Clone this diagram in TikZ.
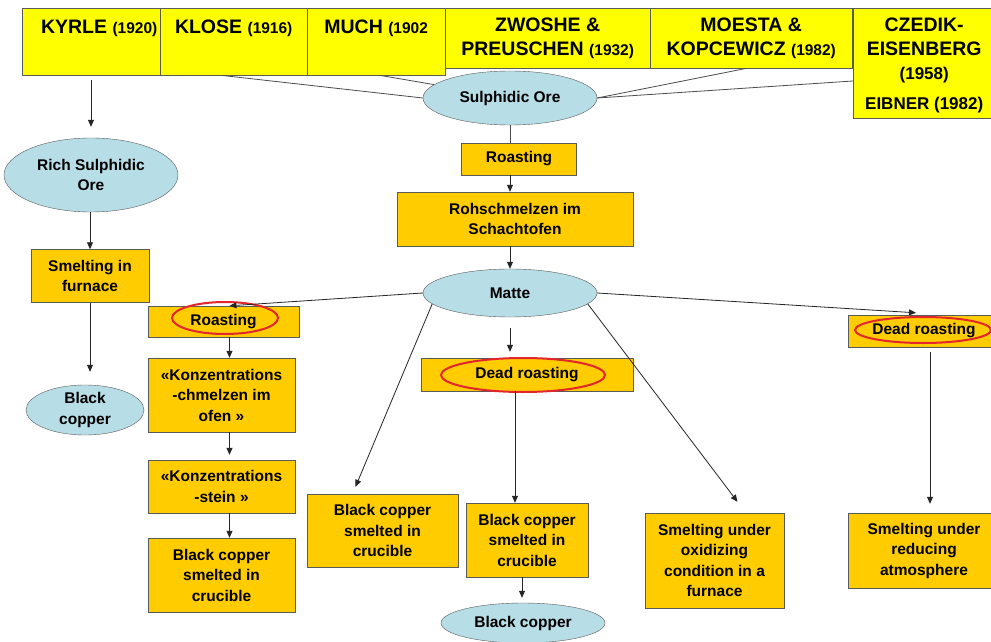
\documentclass[tikz,border=0pt]{standalone}
\usepackage{fontspec}
\setmainfont{Liberation Sans}
\usetikzlibrary{shapes.geometric,arrows.meta}

\definecolor{topyellow}{HTML}{FFFF00}
\definecolor{stepfill}{HTML}{FFCC00}
\definecolor{orefill}{HTML}{B7DDE6}
\definecolor{ringred}{HTML}{E3262B}
\definecolor{edge}{HTML}{5A5A5A}

\newcommand{\yr}[1]{{\fontsize{15.5}{20}\selectfont #1}}

\tikzset{
  topbox/.style={draw=edge, fill=topyellow, anchor=north west, inner sep=0pt},
  toptext/.style={anchor=north, align=center, inner sep=0pt,
    font=\bfseries\fontsize{19.5}{24}\selectfont},
  stepbox/.style={draw=edge, fill=stepfill, align=center, inner sep=0pt,
    font=\bfseries\fontsize{15.5}{20.5}\selectfont},
  orenode/.style={ellipse, draw=edge, fill=orefill, align=center, inner sep=0pt,
    font=\bfseries\fontsize{15.5}{20.5}\selectfont},
  ring/.style={ellipse, draw=ringred, line width=2pt, inner sep=0pt},
  arr/.style={-{Triangle[length=7pt,width=6pt]}, line width=0.8pt, black!85},
  link/.style={line width=0.8pt, black!70}
}

\begin{document}
\begin{tikzpicture}[x=1pt,y=-1pt]
\useasboundingbox (0,0) rectangle (991,642);
\clip (0,0) rectangle (991,642);
\fill[white] (0,0) rectangle (991,642);

% authors along the top
\node[topbox, minimum width=154pt, minimum height=67pt] (kyrle) at (22,8) {};
\node[toptext, yshift=-11.5pt] (kyrleT) at (kyrle.north) {KYRLE \yr{(1920)}};
\node[topbox, minimum width=147pt, minimum height=67pt] (klose) at (160,8) {};
\node[toptext, yshift=-11.5pt] (kloseT) at (klose.north) {KLOSE \yr{(1916)}};
\node[topbox, minimum width=138pt, minimum height=67pt] (much) at (307,8) {};
\node[toptext, yshift=-11.5pt] (muchT) at (much.north) {MUCH \yr{(1902}};
\node[topbox, minimum width=205pt, minimum height=60pt] (zwoshe) at (445,8) {};
\node[toptext, yshift=-10pt] (zwosheT) at (zwoshe.north) {ZWOSHE \&\\PREUSCHEN \yr{(1932)}};
\node[topbox, minimum width=202pt, minimum height=60pt] (moesta) at (650,8) {};
\node[toptext, yshift=-10pt] (moestaT) at (moesta.north) {MOESTA \&\\KOPCEWICZ \yr{(1982)}};
\node[topbox, minimum width=150pt, minimum height=110pt] (czedik) at (853,8) {};
\node[toptext, yshift=-10pt, xshift=-4pt] (czedikT) at (czedik.north)
  {CZEDIK-\\EISENBERG\\{\fontsize{17}{20}\selectfont (1958)}\\[6pt]
   {\fontsize{17}{20}\selectfont EIBNER (1982)}};

% left branch
\node[orenode, minimum width=174pt, minimum height=74pt] (rich) at (91,175) {Rich Sulphidic\\Ore};
\node[stepbox, minimum width=118pt, minimum height=53pt] (smelt) at (90,276) {Smelting in\\furnace};
\node[orenode, minimum width=118pt, minimum height=50pt] (bcL) at (85,410) {Black\\copper};

% main column
\node[orenode, minimum width=174pt, minimum height=54pt] (ore) at (510,98) {Sulphidic Ore};
\node[stepbox, minimum width=115pt, minimum height=32pt] (roast) at (519,159) {Roasting};
\node[stepbox, minimum width=236pt, minimum height=54pt] (rohs) at (515,219) {Rohschmelzen im\\Schachtofen};
\node[orenode, minimum width=174pt, minimum height=48pt] (matte) at (510,293) {Matte};

\node[stepbox, minimum width=151pt, minimum height=31pt] (roastA) at (223.5,321.5) {Roasting};
\node[ring, minimum width=106pt, minimum height=32pt] (ringA) at (225,318) {};
\node[stepbox, minimum width=147pt, minimum height=74pt] (konzA) at (221.5,395)
  {«Konzentrations\\-chmelzen im\\ofen »};
\node[stepbox, minimum width=147pt, minimum height=53pt] (konzB) at (221.5,486.5)
  {«Konzentrations\\-stein »};
\node[stepbox, minimum width=147pt, minimum height=74pt] (bcA) at (221.5,575)
  {Black copper\\smelted in\\crucible};

\node[stepbox, minimum width=151pt, minimum height=73pt] (bcB) at (382.5,530.5)
  {Black copper\\smelted in\\crucible};

\node[stepbox, minimum width=212pt, minimum height=33pt] (deadM) at (527,374.5) {Dead roasting};
\node[ring, minimum width=164pt, minimum height=34pt] (ringM) at (523,375) {};
\node[stepbox, minimum width=122pt, minimum height=74pt] (bcC) at (527,540)
  {Black copper\\smelted in\\crucible};
\node[orenode, minimum width=164pt, minimum height=40pt] (bcE) at (523,623) {Black copper};

\node[stepbox, minimum width=139pt, minimum height=95pt] (oxid) at (714.5,560.5)
  {Smelting under\\oxidizing\\condition in a\\furnace};

\node[stepbox, minimum width=152pt, minimum height=32pt] (deadR) at (924,331) {Dead roasting};
\node[ring, minimum width=136pt, minimum height=26pt] (ringR) at (923,330) {};
\node[stepbox, minimum width=152pt, minimum height=75pt] (reduce) at (924,550.5)
  {Smelting under\\reducing\\atmosphere};

% lines into the ore
\draw[link] ([xshift=-12pt]klose.south) -- (ore.west);
\draw[link] ([xshift=4pt]much.south) -- (ore.170);
\draw[link] ([xshift=-5pt]moesta.south) -- (ore.east);
\draw[link] ([yshift=-73pt]czedik.north west) -- (ore.east);

% arrows
\draw[arr] ([yshift=-5pt]kyrle.south -| rich.north) -- ([yshift=11pt]rich.north);
\draw[arr] (rich.south -| smelt.north) -- (smelt.north);
\draw[arr] (smelt.south) -- ([yshift=13pt]smelt.south |- bcL.north);

\draw[link] (ore.south) -- (ore.south |- roast.north);
\draw[arr] (ore.south |- roast.south) -- (ore.south |- rohs.north);
\draw[arr] (ore.south |- rohs.south) -- (matte.north);

\draw[arr] (matte.west) -- ([xshift=6pt]roastA.north);
\draw[arr] ([xshift=6pt]roastA.south) -- ([xshift=6pt]roastA.south |- konzA.north);
\draw[arr] ([xshift=8pt]konzA.south) -- ([xshift=8pt,yshift=5pt]konzB.north);
\draw[arr] ([xshift=8pt]konzB.south) -- ([xshift=8pt]bcA.north);

\draw[arr] (matte.188) -- ([xshift=-27pt,yshift=7pt]bcB.north);
\draw[arr] ([yshift=-11pt]matte.south) -- ([yshift=6pt]matte.south |- deadM.north);
\draw[arr] ([xshift=-12pt]deadM.south) -- ([xshift=-12pt]bcC.north);
\draw[arr] ([xshift=-5pt]bcC.south) -- ([xshift=-5pt,yshift=5pt]bcC.south |- bcE.north);

\draw[arr] (matte.-8) -- ([xshift=23pt,yshift=11pt]oxid.north);
\draw[arr] (matte.east) -- ([xshift=-8pt,yshift=2pt]deadR.north);
\draw[arr] ([xshift=6pt,yshift=-5pt]deadR.south) -- ([xshift=6pt,yshift=9pt]reduce.north);
\end{tikzpicture}
\end{document}
